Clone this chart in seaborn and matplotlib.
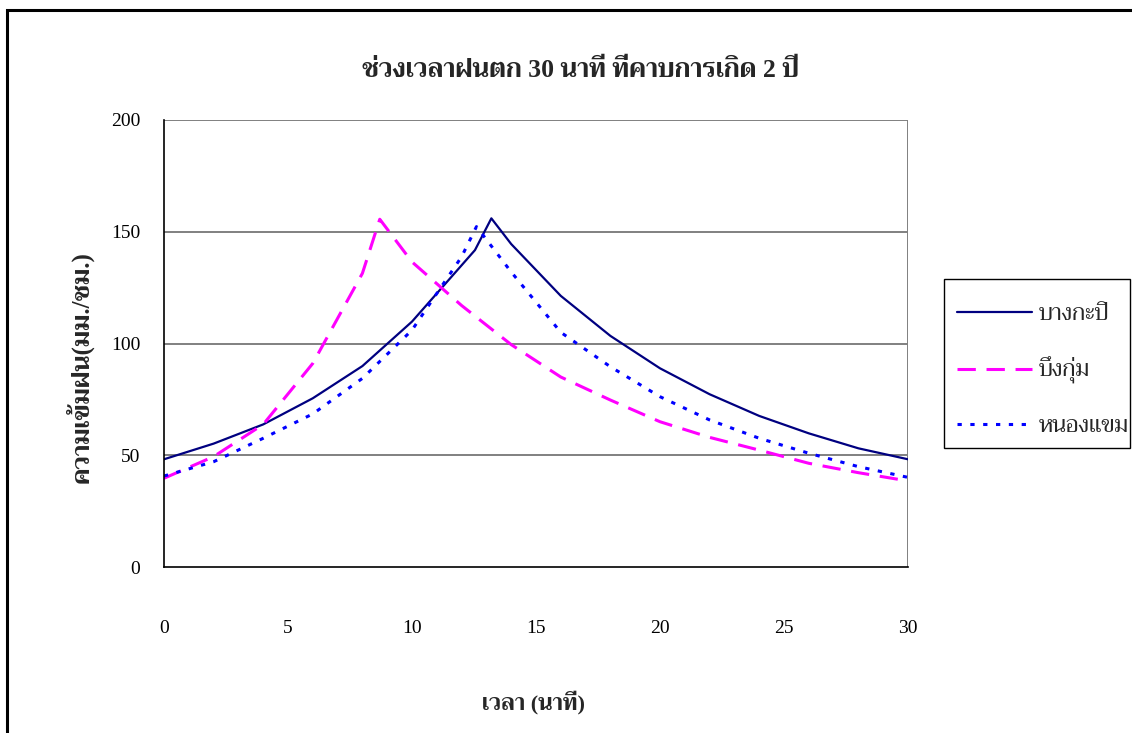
import matplotlib
matplotlib.use("Agg")
import matplotlib.pyplot as plt
from matplotlib import font_manager
from matplotlib.patches import Rectangle
from matplotlib.lines import Line2D
import pandas as pd
import seaborn as sns

# Rainfall intensity hyetographs, 30-minute storm, 2-year return period
title = "ช่วงเวลาฝนตก 30 นาที ที่คาบการเกิด 2 ปี"
x_label = "เวลา (นาที)"
y_label = "ความเข้มฝน(มม./ชม.)"
stations = ["บางกะปิ", "บึงกุ่ม", "หนองแขม"]

bangkapi_t = [0, 2, 4, 6, 8, 10, 12.54, 13.2, 14, 16, 18, 20, 22, 24, 26, 28, 30]
bangkapi_i = [48.2, 55.2, 63.8, 75.5, 89.9, 109.8, 141.8, 156.0, 144.5, 121.3,
              103.4, 88.9, 77.3, 67.6, 59.8, 53.1, 48.2]

buengkum_t = [0, 2, 4, 6, 8, 8.7, 10, 12, 14, 16, 18, 20, 22, 24, 26, 28, 30]
buengkum_i = [39.7, 49.4, 63.8, 91.1, 131.4, 155.6, 136.5, 117.0, 99.5, 85.0,
              74.7, 65.0, 58.0, 52.3, 46.4, 42.2, 38.5]

nongkhaem_t = [0, 2, 4, 6, 8, 10, 12, 12.6, 14, 16, 18, 20, 22, 24, 26, 28, 30]
nongkhaem_i = [40.7, 47.1, 57.6, 68.5, 84.4, 106.0, 138.8, 152.3, 132.0, 105.0,
               89.6, 76.2, 65.8, 57.6, 50.9, 44.9, 40.1]

x_ticks = [0, 5, 10, 15, 20, 25, 30]
y_ticks = [0, 50, 100, 150, 200]


def thai_family():
    """Pick a looped serif Thai face if one is installed."""
    names = {f.name for f in font_manager.fontManager.ttflist}
    for wanted in ["Trirong", "Taviraj", "Sarabun", "Prompt"]:
        if wanted in names:
            return wanted
    return "DejaVu Sans"


sns.set_theme(style="white")
THAI = thai_family()
plt.rcParams["font.family"] = ["Liberation Serif", THAI, "DejaVu Sans"]

frames = []
for name, t, v in zip(stations, [bangkapi_t, buengkum_t, nongkhaem_t],
                      [bangkapi_i, buengkum_i, nongkhaem_i]):
    frames.append(pd.DataFrame({"time": t, "intensity": v, "station": name}))
df = pd.concat(frames, ignore_index=True)

palette = {stations[0]: "#000080", stations[1]: "#FF00FF", stations[2]: "#0000FF"}
dashes = {stations[0]: None, stations[1]: (6, 3.5), stations[2]: (1.4, 2.8)}
widths = {stations[0]: 1.6, stations[1]: 2.2, stations[2]: 2.2}

W, H = 1132, 733
fig = plt.figure(figsize=(W / 100, H / 100), dpi=100)
fig.patch.set_facecolor("white")
ax = fig.add_axes([164 / W, 1 - 567 / H, 744 / W, 447 / H])

for name in stations:
    sns.lineplot(data=df[df["station"] == name], x="time", y="intensity",
                 color=palette[name], sort=False, linewidth=widths[name],
                 ax=ax, legend=False)
    if dashes[name]:
        ax.lines[-1].set_dashes(dashes[name])

ax.set_xlim(0, 30)
ax.set_ylim(0, 200)
ax.set_xticks(x_ticks)
ax.set_yticks(y_ticks)
ax.set_xlabel("")
ax.set_ylabel("")

for y in y_ticks[1:]:
    ax.axhline(y, color="#808080", linewidth=1.4, zorder=0)
ax.axvline(30, color="#808080", linewidth=1.4, zorder=0)

for side in ["top", "right"]:
    ax.spines[side].set_visible(False)
for side in ["left", "bottom"]:
    ax.spines[side].set_color("black")
    ax.spines[side].set_linewidth(1.2)
ax.tick_params(axis="both", direction="out", length=9, width=1.1,
               color="black", labelsize=14, labelcolor="black")
ax.tick_params(axis="x", pad=29.5)
ax.tick_params(axis="y", pad=8)
ax.set_facecolor("white")

fig.text(581 / W, 1 - 70 / H, title, ha="center", va="center",
         fontsize=18.5, fontweight="bold")
fig.text(534 / W, 1 - 703 / H, x_label, ha="center", va="center",
         fontsize=16, fontweight="bold")
fig.text(79 / W, 1 - 367 / H, y_label, ha="center", va="center",
         fontsize=18, fontweight="bold", rotation=90)

handles = []
for n in stations:
    h = Line2D([0], [0], color=palette[n], linewidth=widths[n])
    if dashes[n]:
        h.set_dashes(dashes[n])
    handles.append(h)
leg = fig.legend(handles, stations, loc="upper left",
                 bbox_to_anchor=(944 / W, 1 - 291 / H), borderaxespad=0,
                 frameon=False, fontsize=16.5, handlelength=3.3, labelspacing=1.4,
                 borderpad=0.55, handletextpad=0.3)

# legend box
fig.patches.append(Rectangle((944 / W, 1 - 448 / H), 186 / W, 169 / H,
                             transform=fig.transFigure, fill=False,
                             edgecolor="black", linewidth=1.0))

# outer chart border
fig.patches.append(Rectangle((7 / W, -0.1), 1.2, (1 - 10 / H) + 0.1,
                             transform=fig.transFigure, fill=False,
                             edgecolor="black", linewidth=2.2))

fig.savefig("out.png", dpi=100, facecolor="white")
